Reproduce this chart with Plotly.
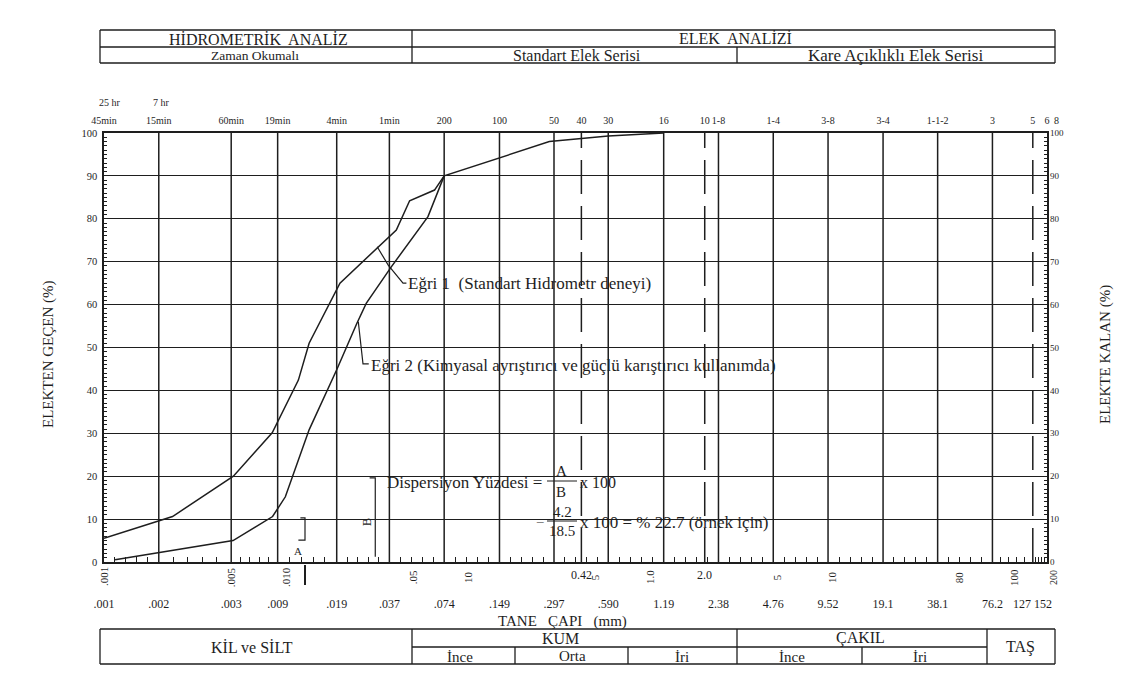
import numpy as np
import plotly.graph_objects as go

# ---------------- data ----------------
# Curve 1: standard hydrometer test  (grain diameter mm, % passing)
egri1_d = [0.001, 0.00238, 0.00514, 0.0084, 0.0117, 0.0134, 0.0198, 0.0404, 0.0478, 0.0655, 0.074, 0.28, 0.59, 1.19]
egri1_p = [5.5, 10.6, 20.0, 30.1, 42.4, 51.0, 65.0, 77.4, 84.2, 86.7, 90.0, 98.0, 99.3, 100.0]
# Curve 2: with chemical dispersant and strong mixer
egri2_d = [0.00115, 0.00512, 0.00844, 0.00992, 0.0134, 0.019, 0.0245, 0.0276, 0.0379, 0.0603, 0.074]
egri2_p = [0.5, 5.0, 10.6, 15.2, 30.8, 44.8, 55.6, 60.3, 68.8, 80.5, 90.0]

# bottom scale (mm)
bottom_vals = [0.001, 0.002, 0.005, 0.009, 0.019, 0.037, 0.074, 0.149, 0.297, 0.590,
               1.19, 2.38, 4.76, 9.52, 19.1, 38.1, 76.2, 127, 152]
bottom_text = [".001", ".002", ".003", ".009", ".019", ".037", ".074", ".149", ".297", ".590",
               "1.19", "2.38", "4.76", "9.52", "19.1", "38.1", "76.2", "127", "152"]

# top scale: hydrometer reading times and sieve numbers
top_vals = [0.001, 0.002, 0.005, 0.009, 0.019, 0.037, 0.074, 0.149, 0.297, 0.42, 0.59,
            1.19, 2.0, 2.38, 4.76, 9.52, 19.1, 38.1, 76.2, 127, 152]
top_text = ["45min", "15min", "60min", "19min", "4min", "1min", "200", "100", "50", "40", "30",
            "16", "10", "1-8", "1-4", "3-8", "3-4", "1-1-2", "3", "5", "6"]

# rotated mm labels just under the axis
rot_vals = [0.001, 0.005, 0.010, 0.05, 0.10, 0.5, 1.0, 5, 10, 50, 100]
rot_text = [".001", ".005", ".010", ".05", "10", "5", "1.0", "5", "10", "80", "100"]
flat_vals = [0.42, 2.0]
flat_text = ["0.42", "2.0"]

solid_grid = [0.002, 0.005, 0.009, 0.019, 0.037, 0.074, 0.149, 0.297, 0.59, 1.19,
              2.38, 4.76, 9.52, 19.1, 38.1, 76.2]
dashed_grid = [0.42, 2.0, 127]

pct_ticks = list(range(0, 101, 10))

# leader lines of the curve labels
leader1_d = [0.0317, 0.03645, 0.04396, 0.0459]
leader1_p = [73.5, 69.2, 65.0, 65.0]
leader2_d = [0.02497, 0.0265, 0.0285]
leader2_p = [56.0, 46.2, 46.2]

# A and B markers of the dispersion example
markA_d = [0.0120, 0.01272, 0.01272, 0.0117]
markA_p = [10.3, 10.3, 5.1, 5.1]
markB_d = [0.02882, 0.03095, 0.03095]
markB_p = [19.6, 19.6, 1.2]

# ---------------- layout geometry (page pixels) ----------------
W, H = 1140, 686
OFF = 8                      # page body margin
L, R, T, B = 104, 1047, 133, 562
FONT = "Liberation Serif, Times New Roman, serif"
INK = "#1e1e1e"


def px(x):
    return (x - L) / (R - L)


def py(y):
    return (B - y) / (B - T)


xr = [np.log10(bottom_vals[0]), np.log10(bottom_vals[-1])]

fig = go.Figure()


def vlines(vals):
    xs, ys = [], []
    for v in vals:
        xs += [v, v, None]
        ys += [0, 100, None]
    return xs, ys


xs, ys = vlines(solid_grid)
fig.add_trace(go.Scatter(x=xs, y=ys, mode="lines", line=dict(color=INK, width=1.5),
                         hoverinfo="skip", showlegend=False))
xs, ys = vlines(dashed_grid)
fig.add_trace(go.Scatter(x=xs, y=ys, mode="lines", line=dict(color=INK, width=1.5, dash="34px,12px"),
                         hoverinfo="skip", showlegend=False, xaxis="x2"))

fig.add_trace(go.Scatter(x=egri1_d, y=egri1_p, mode="lines", line=dict(color=INK, width=1.5),
                         name="Eğri 1", showlegend=False))
fig.add_trace(go.Scatter(x=egri2_d, y=egri2_p, mode="lines", line=dict(color=INK, width=1.5),
                         name="Eğri 2", showlegend=False))
for dd, pp in [(leader1_d, leader1_p), (leader2_d, leader2_p), (markA_d, markA_p), (markB_d, markB_p)]:
    fig.add_trace(go.Scatter(x=dd, y=pp, mode="lines", line=dict(color=INK, width=1.2),
                             hoverinfo="skip", showlegend=False))
# right axis carrier
fig.add_trace(go.Scatter(x=[None], y=[None], yaxis="y2", showlegend=False, hoverinfo="skip"))

# minor tick positions along the bottom axis
minor_vals = []
for a, b in zip(bottom_vals[:-1], bottom_vals[1:]):
    for k in range(1, 5):
        minor_vals.append(a * (b / a) ** (k / 5))

axis_font = dict(family=FONT, size=12, color=INK)
N_AXIS = len(bottom_vals) - 2      # last two labels are set beside each other by hand

fig.update_layout(
    width=W, height=H, autosize=False,
    margin=dict(l=L - OFF, r=W - (R - OFF), t=T - OFF, b=H - (B - OFF), pad=0),
    paper_bgcolor="white", plot_bgcolor="white",
    font=dict(family=FONT, color=INK),
    xaxis=dict(type="log", range=xr, tickmode="array", tickvals=bottom_vals[:N_AXIS],
               ticktext=bottom_text[:N_AXIS],
               ticks="", tickangle=0, showgrid=False, zeroline=False, showline=True, linecolor=INK,
               linewidth=1.5, mirror=True, ticklabelstandoff=30, tickfont=axis_font,
               minor=dict(tickmode="array", tickvals=minor_vals, ticks="inside", ticklen=5,
                          tickcolor=INK, tickwidth=1, showgrid=False)),
    xaxis2=dict(type="log", range=xr, overlaying="x", side="top", anchor="y", tickmode="array",
                tickvals=top_vals, ticktext=top_text, ticks="", tickangle=0, showgrid=False,
                zeroline=False, showline=False, ticklabelstandoff=6,
                tickfont=dict(family=FONT, size=10, color=INK)),
    yaxis=dict(range=[0, 100], tickmode="array", tickvals=pct_ticks, ticks="inside", ticklen=7,
               tickcolor=INK, showgrid=True, gridcolor=INK, gridwidth=1.4, zeroline=False,
               showline=True, linecolor=INK, linewidth=1.5, mirror=True, ticklabelstandoff=3,
               tickfont=dict(family=FONT, size=10.5, color=INK),
               minor=dict(dtick=1, ticks="inside", ticklen=3, tickcolor=INK, showgrid=False)),
    yaxis2=dict(range=[0, 100], overlaying="y", side="right", anchor="x", tickmode="array",
                tickvals=pct_ticks, ticks="inside", ticklen=7, tickcolor=INK, showgrid=False,
                zeroline=False, showline=False, ticklabelstandoff=2,
                tickfont=dict(family=FONT, size=9, color=INK),
                minor=dict(dtick=1, ticks="inside", ticklen=3, tickcolor=INK, showgrid=False)),
)

shapes = []


def line(x0, y0, x1, y1, w=1.3):
    shapes.append(dict(type="line", xref="paper", yref="paper", x0=px(x0), y0=py(y0),
                       x1=px(x1), y1=py(y1), line=dict(color=INK, width=w)))


# top table
line(100, 30, 1055, 30); line(100, 63, 1055, 63); line(100, 47, 1055, 47)
line(100, 30, 100, 63); line(1055, 30, 1055, 63)
line(412, 30, 412, 63); line(737, 47, 737, 63)
# bottom table
line(100, 629, 1055, 629); line(100, 664, 1055, 664); line(412, 647, 987, 647)
line(100, 629, 100, 664); line(1055, 629, 1055, 664)
for xv in (412, 737, 987):
    line(xv, 629, xv, 664)
for xv in (515, 628, 862):
    line(xv, 647, xv, 664)
# fraction bars
line(547, 481, 577, 481, 1); line(547, 521, 577, 521, 1)
# A marker tail under the axis
shapes.append(dict(type="line", xref="x", yref="paper", x0=markA_d[1], x1=markA_d[1],
                   y0=py(565), y1=py(585), line=dict(color=INK, width=2)))
fig.update_layout(shapes=shapes)

ann = []


def text(s, x, y, size=13, xanchor="center", angle=0, xref="paper", yref="paper"):
    ann.append(dict(text=s, x=x, y=y, xref=xref, yref=yref, showarrow=False, xanchor=xanchor,
                    yanchor="middle", textangle=angle, font=dict(family=FONT, size=size, color=INK)))


def ptext(s, x, y, size=13, xanchor="center", angle=0):
    text(s, px(x), py(y), size, xanchor, angle)


ptext("HİDROMETRİK  ANALİZ", 258, 39, 16)
ptext("Zaman Okumalı", 255, 56, 13.5)
ptext("ELEK  ANALİZİ", 735, 38, 16)
ptext("Standart Elek Serisi", 577, 56, 16)
ptext("Kare Açıklıklı Elek Serisi", 895, 56, 17)
ptext("KİL ve SİLT", 252, 647, 16)
ptext("KUM", 560, 638, 16)
ptext("İnce", 460, 657, 15); ptext("Orta", 572, 656, 15); ptext("İri", 682, 657, 15)
ptext("ÇAKIL", 860, 638, 16)
ptext("İnce", 792, 657, 15); ptext("İri", 920, 657, 15)
ptext("TAŞ", 1020, 647, 16)
ptext("25 hr", 110, 103, 10); ptext("7 hr", 161, 103, 10)
ptext("8", 1056, 120, 10)
ptext("TANE   ÇAPI   (mm)", 562, 621, 15)
ptext("ELEKTEN GEÇEN (%)", 48, 355, 15, angle=-90)
ptext("ELEKTE KALAN (%)", 1105, 355, 15, angle=-90)
ptext("200", 1053, 578, 10, angle=-90)
# last two bottom-scale labels, set side by side as in the original
ptext(bottom_text[-2], 1022, 604, 12)
ptext(bottom_text[-1], 1043, 604, 12)

for v, s in zip(rot_vals, rot_text):
    text(s, np.log10(v), py(577), 11, angle=-90, xref="x")
for v, s in zip(flat_vals, flat_text):
    text(s, np.log10(v), py(575), 12, xref="x")

# curve labels at the leader ends
text("Eğri 1  (Standart Hidrometr deneyi)", np.log10(leader1_d[-1]), leader1_p[-1], 17,
     xanchor="left", xref="x", yref="y")
text("Eğri 2 (Kimyasal ayrıştırıcı ve güçlü karıştırıcı kullanımda)", np.log10(leader2_d[-1]),
     leader2_p[-1] - 0.5, 17, xanchor="left", xref="x", yref="y")
text("A", np.log10(markA_d[-1]), 2.6, 11, xref="x", yref="y")
text("B", np.log10(markB_d[0]) - 0.015, 9.3, 12, angle=-90, xref="x", yref="y")

# dispersion formula
ptext("Dispersiyon Yüzdesi =", 385, 482, 17, xanchor="left")
ptext("A", 561, 471, 15); ptext("B", 561, 492, 15)
ptext("x 100", 578, 482, 16, xanchor="left")
ptext("=", 540, 521, 15)
ptext("4.2", 562, 512, 15); ptext("18.5", 562, 531, 15)
ptext("x 100 = % 22.7 (örnek için)", 578, 522, 17, xanchor="left")

fig.update_layout(annotations=ann)

fig.write_html("out.html")
